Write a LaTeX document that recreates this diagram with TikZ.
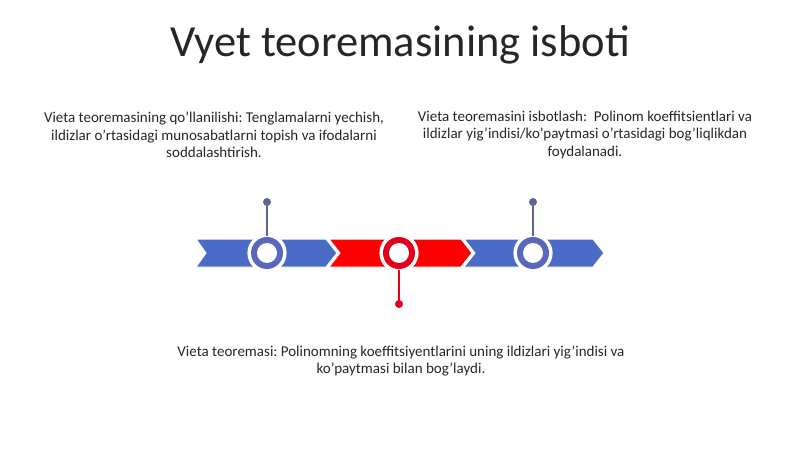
\documentclass[tikz,border=0pt]{standalone}
\usepackage{fontspec}
\setmainfont{Carlito}
\frenchspacing
\definecolor{bluech}{HTML}{4A6BC6}
\definecolor{bluering}{HTML}{5B67BC}
\definecolor{bluepin}{HTML}{5E6890}
\definecolor{redch}{HTML}{FF0000}
\definecolor{redring}{HTML}{E3001B}
\definecolor{txt}{HTML}{262626}
\begin{document}
\begin{tikzpicture}[x=1pt,y=-1pt,
  chev/.style={draw=white,line width=1pt},
  ring/.style={circle,draw=white,line width=1.2pt,minimum size=38pt,inner sep=0pt},
  pin/.style={line width=1.3pt},
  pindot/.style={circle,inner sep=0pt,minimum size=8pt},
  body/.style={align=center,font=\fontsize{15}{17.5}\selectfont,text=txt}]
\useasboundingbox (0,0) rectangle (800,449);
\node[font=\fontsize{44.5}{48}\selectfont,text=txt] (title) at (400,45) {Vyet teoremasining isboti};
% chevrons
\fill[bluech,chev] (196,239) -- (326,239) -- (337,253) -- (326,267) -- (196,267) -- (206,253) -- cycle;
\fill[redch,chev] (329,239) -- (461,239) -- (472,253) -- (461,267) -- (329,267) -- (340,253) -- cycle;
\fill[bluech,chev] (464,239) -- (593,239) -- (604,253) -- (593,267) -- (464,267) -- (475,253) -- cycle;
% rings
\node[ring,fill=white] (c1) at (267,253) {};
\fill[bluering] (267,253) circle (16);
\fill[white] (267,253) circle (10);
\node[ring,fill=white] (c2) at (399,253) {};
\fill[redring] (399,253) circle (16);
\fill[white] (399,253) circle (10);
\node[ring,fill=white] (c3) at (533,253) {};
\fill[bluering] (533,253) circle (16);
\fill[white] (533,253) circle (10);
% pins
\node[pindot,fill=bluepin] (d1) at (267,202) {};
\node[pindot,fill=redring] (d2) at (399,304) {};
\node[pindot,fill=bluepin] (d3) at (533,202) {};
\draw[pin,bluepin] (d1.center) -- (267,236);
\draw[pin,redring] (d2.center) -- (399,270);
\draw[pin,bluepin] (d3.center) -- (533,236);
% texts
\node[body] (t1) at (214,135) {Vieta teoremasining qo'llanilishi: Tenglamalarni yechish,\\ ildizlar o'rtasidagi munosabatlarni topish va ifodalarni\\ soddalashtirish.};
\node[body] (t2) at (585,135) {Vieta teoremasini isbotlash:\ \ Polinom koeffitsientlari va\\ ildizlar yig'indisi/ko'paytmasi o'rtasidagi bog'liqlikdan\\ foydalanadi.};
\node[body] (t3) at (401,361) {Vieta teoremasi: Polinomning koeffitsiyentlarini uning ildizlari yig'indisi va\\ ko'paytmasi bilan bog'laydi.};
\end{tikzpicture}
\end{document}
